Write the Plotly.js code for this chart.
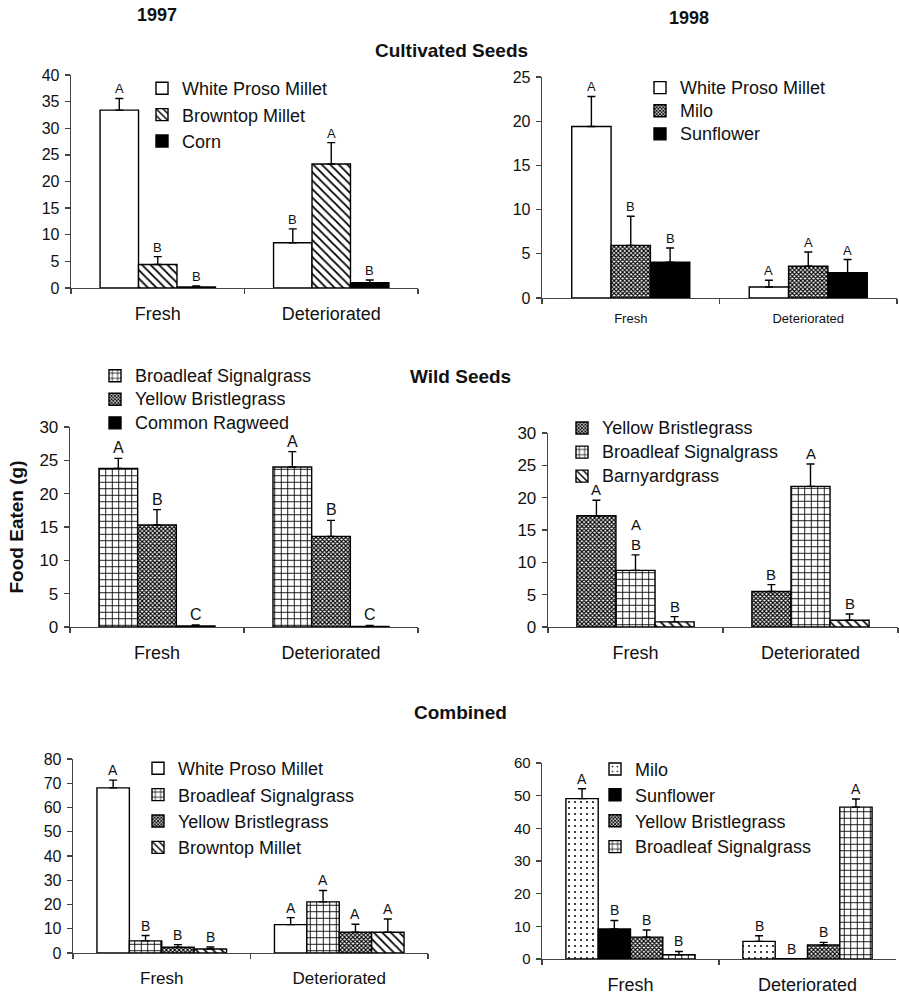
<!DOCTYPE html>
<html>
<head>
<meta charset="utf-8">
<script src="https://cdn.plot.ly/plotly-3.0.1.min.js"></script>
<style>html,body{margin:0;padding:0;background:#fff;}#chart{width:899px;height:996px;}</style>
</head>
<body>
<div id="chart"></div>
<script>
// ---------- data ----------
const categories = ["Fresh", "Deteriorated"];

// 1997 cultivated seeds
const cult97Series  = ["White Proso Millet", "Browntop Millet", "Corn"];
const cult97Values  = [[33.4, 8.5], [4.4, 23.3], [0.2, 1.0]];
const cult97Errors  = [[2.2, 2.6], [1.5, 4.0], [0.2, 0.5]];
const cult97Letters = [["A", "B"], ["B", "A"], ["B", "B"]];

// 1998 cultivated seeds
const cult98Series  = ["White Proso Millet", "Milo", "Sunflower"];
const cult98Values  = [[19.4, 1.25], [5.95, 3.6], [4.05, 2.85]];
const cult98Errors  = [[3.4, 0.75], [3.3, 1.6], [1.6, 1.5]];
const cult98Letters = [["A", "A"], ["B", "A"], ["B", "A"]];

// 1997 wild seeds
const wild97Series  = ["Broadleaf Signalgrass", "Yellow Bristlegrass", "Common Ragweed"];
const wild97Values  = [[23.8, 24.0], [15.3, 13.6], [0.15, 0.1]];
const wild97Errors  = [[1.5, 2.3], [2.3, 2.4], [0.15, 0.15]];
const wild97Letters = [["A", "A"], ["B", "B"], ["C", "C"]];

// 1998 wild seeds
const wild98Series  = ["Yellow Bristlegrass", "Broadleaf Signalgrass", "Barnyardgrass"];
const wild98Values  = [[17.2, 5.5], [8.75, 21.75], [0.8, 1.05]];
const wild98Errors  = [[2.4, 1.05], [2.4, 3.45], [0.8, 0.95]];
const wild98Letters = [["A", "B"], ["A<br>B", "A"], ["B", "B"]];

// 1997 combined
const comb97Series  = ["White Proso Millet", "Broadleaf Signalgrass", "Yellow Bristlegrass", "Browntop Millet"];
const comb97Values  = [[68.1, 11.7], [5.0, 21.1], [2.35, 8.55], [1.65, 8.55]];
const comb97Errors  = [[3.2, 2.9], [2.2, 4.7], [1.1, 3.3], [0.85, 5.5]];
const comb97Letters = [["A", "A"], ["B", "A"], ["B", "A"], ["B", "A"]];

// 1998 combined
const comb98Series  = ["Milo", "Sunflower", "Yellow Bristlegrass", "Broadleaf Signalgrass"];
const comb98Values  = [[49.1, 5.4], [9.2, 0.1], [6.7, 4.3], [1.3, 46.5]];
const comb98Errors  = [[3.0, 1.7], [2.6, 0.0], [2.2, 0.8], [1.0, 2.5]];
const comb98Letters = [["A", "B"], ["B", "B"], ["B", "B"], ["B", "A"]];

// ---------- styling ----------
const FONT = "Liberation Sans, Arial, Helvetica, sans-serif";
const W = 899, H = 996;
const px = v => v / W;
const py = v => 1 - v / H;

const FILL = {
  open:  {color: "white"},
  solid: {color: "black"},
  diag:  {color: "white", pattern: {shape: "\\", size: 6, solidity: 0.3, fgcolor: "black", bgcolor: "white"}},
  grid:  {color: "white", pattern: {shape: "+", size: 6.5, solidity: 0.25, fgcolor: "black", bgcolor: "white"}},
  fine:  {color: "white", pattern: {shape: "x", size: 3, solidity: 0.62, fgcolor: "black", bgcolor: "white"}},
  dots:  {color: "white", pattern: {shape: ".", size: 6, solidity: 0.09, fgcolor: "black", bgcolor: "white"}}
};

// legFont: font used for legend row spacing; names are drawn at 18px
const panels = [
  {names: cult97Series, vals: cult97Values, errs: cult97Errors, lets: cult97Letters,
   fills: ["open", "diag", "solid"], xd: [71, 418], yd: [75, 288], range: [0, 40], dtick: 5,
   gw: 0.665, tickFont: 16, xFont: 18, letFont: 13, xstand: 9, leg: [142, 70], legFont: 18},
  {names: cult98Series, vals: cult98Values, errs: cult98Errors, lets: cult98Letters,
   fills: ["open", "fine", "solid"], xd: [542, 897], yd: [77, 298], range: [0, 25], dtick: 5,
   gw: 0.665, tickFont: 16, xFont: 13, letFont: 13, xstand: 8, leg: [640, 71], legFont: 15.5},
  {names: wild97Series, vals: wild97Values, errs: wild97Errors, lets: wild97Letters,
   fills: ["grid", "fine", "solid"], xd: [70, 418], yd: [427, 627], range: [0, 30], dtick: 5,
   gw: 0.667, tickFont: 17, xFont: 18, letFont: 16, xstand: 9, leg: [95, 359], legFont: 15.8},
  {names: wild98Series, vals: wild98Values, errs: wild98Errors, lets: wild98Letters,
   fills: ["fine", "grid", "diag"], xd: [548, 898], yd: [433, 627], range: [0, 30], dtick: 5,
   gw: 0.67, tickFont: 17, xFont: 18, letFont: 15, xstand: 9, leg: [562, 411], legFont: 16.2},
  {names: comb97Series, vals: comb97Values, errs: comb97Errors, lets: comb97Letters,
   fills: ["open", "grid", "fine", "diag"], xd: [73, 428], yd: [759, 953], range: [0, 80], dtick: 10,
   gw: 0.73, tickFont: 16, xFont: 17, letFont: 14, xstand: 9, leg: [138, 750], legFont: 18},
  {names: comb98Series, vals: comb98Values, errs: comb98Errors, lets: comb98Letters,
   fills: ["dots", "solid", "fine", "grid"], xd: [542, 896], yd: [763, 959], range: [0, 60], dtick: 10,
   gw: 0.73, tickFont: 15, xFont: 18, letFont: 14, xstand: 9, leg: [595, 751], legFont: 17.6}
];

const traces = [];
const annotations = [];
const layout = {
  width: W, height: H,
  margin: {l: 0, r: 0, t: 0, b: 0},
  paper_bgcolor: "white", plot_bgcolor: "white",
  barmode: "overlay",
  showlegend: true,
  font: {family: FONT, color: "#111"},
  annotations: annotations
};

panels.forEach((p, k) => {
  const sfx = k === 0 ? "" : String(k + 1);
  const xa = "x" + sfx, ya = "y" + sfx;
  const legName = "legend" + sfx;
  const n = p.names.length;
  const w = p.gw / n;

  layout["xaxis" + sfx] = {
    domain: [px(p.xd[0]), px(p.xd[1])], anchor: ya,
    type: "category", range: [-0.5, 1.5],
    showline: true, linecolor: "#444", linewidth: 1.3,
    ticks: "outside", tickson: "boundaries", ticklen: 5, tickcolor: "#444", tickwidth: 1.3,
    tickfont: {size: p.xFont, family: FONT, color: "#111"},
    ticklabelstandoff: p.xstand,
    showgrid: false, zeroline: false, fixedrange: true
  };
  layout["yaxis" + sfx] = {
    domain: [py(p.yd[1]), py(p.yd[0])], anchor: xa,
    range: p.range, dtick: p.dtick, tick0: 0,
    showline: true, linecolor: "#444", linewidth: 1.3,
    ticks: "outside", ticklen: 5, tickcolor: "#444", tickwidth: 1.3,
    tickfont: {size: p.tickFont, family: FONT, color: "#111"},
    ticklabelstandoff: 2,
    showgrid: false, zeroline: false, fixedrange: true
  };
  if (k === 2) {
    layout["yaxis" + sfx].title = {text: "<b>Food Eaten (g)</b>", font: {size: 19, family: FONT, color: "#111"}, standoff: 10};
  }
  layout[legName] = {
    x: px(p.leg[0]), y: py(p.leg[1]), xanchor: "left", yanchor: "top",
    bgcolor: "rgba(0,0,0,0)", borderwidth: 0,
    font: {size: p.legFont, family: FONT, color: "#111"},
    itemclick: false, itemdoubleclick: false, tracegroupgap: 0
  };

  p.names.forEach((name, i) => {
    const f = FILL[p.fills[i]];
    const off = -p.gw / 2 + i * w;
    const marker = {color: f.color, line: {color: "black", width: 1.4}};
    if (f.pattern) marker.pattern = Object.assign({fillmode: "replace"}, f.pattern);
    traces.push({
      type: "bar",
      name: '<span style="font-size:18px">' + name + "</span>",
      x: categories, y: p.vals[i],
      xaxis: xa, yaxis: ya, legend: legName,
      width: w, offset: off,
      marker: marker,
      error_y: {type: "data", symmetric: false, array: p.errs[i], arrayminus: [0, 0],
                color: "black", thickness: 1.4, width: 4},
      hoverinfo: "skip"
    });
    categories.forEach((c, j) => {
      annotations.push({
        xref: xa, yref: ya, x: j + off + w / 2, y: p.vals[i][j] + p.errs[i][j],
        xanchor: "center", yanchor: "bottom", showarrow: false,
        text: p.lets[i][j], font: {size: p.letFont, family: FONT, color: "#111"}
      });
    });
  });
});

// titles
const titles = [
  {text: "1997", x: 157, y: 15, size: 18},
  {text: "1998", x: 689, y: 18, size: 18},
  {text: "Cultivated Seeds", x: 452, y: 51, size: 19},
  {text: "Wild Seeds", x: 461, y: 376, size: 19},
  {text: "Combined", x: 460, y: 712, size: 19}
];
titles.forEach(t => annotations.push({
  xref: "paper", yref: "paper", x: px(t.x), y: py(t.y), xanchor: "center", yanchor: "middle",
  showarrow: false, text: "<b>" + t.text + "</b>", font: {size: t.size, family: FONT, color: "#111"}
}));

Plotly.newPlot("chart", traces, layout, {displayModeBar: false, staticPlot: true});
</script>
</body>
</html>
